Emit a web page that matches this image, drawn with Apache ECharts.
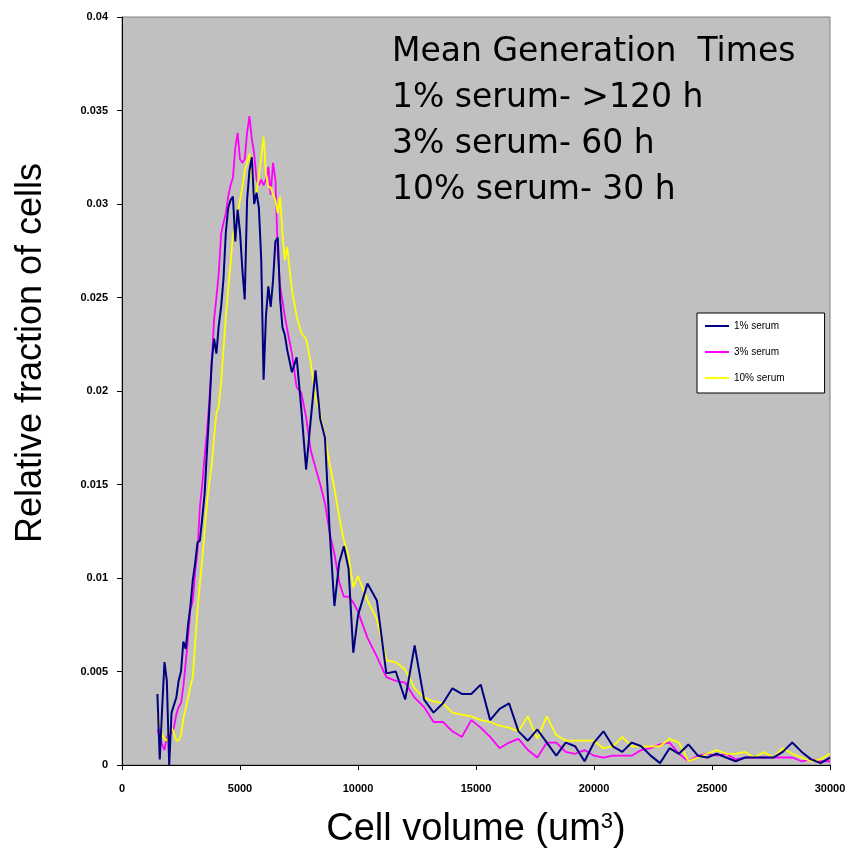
<!DOCTYPE html>
<html>
<head>
<meta charset="utf-8">
<script src="https://cdn.jsdelivr.net/npm/echarts@6/dist/echarts.min.js"></script>
<style>
html,body{margin:0;padding:0;background:#fff;}
#c{width:851px;height:855px;}
</style>
</head>
<body>
<div id="c"></div>
<script>
// Cell volume bins (um^3)
const volumes = [1500,1600,1700,1800,1900,2000,2100,2200,2300,2400,2500,2600,2700,2800,2900,3000,3100,3200,3300,3400,3500,3600,3700,3800,3900,4000,4100,4200,4300,4400,4500,4600,4700,4800,4900,5000,5100,5200,5300,5400,5500,5600,5700,5800,5900,6000,6100,6200,6300,6400,6500,6600,6700,6800,6900,7000,7200,7400,7600,7800,8000,8200,8400,8600,8800,9000,9200,9400,9600,9800,10000,10400,10800,11200,11600,12000,12400,12800,13200,13600,14000,14400,14800,15200,15600,16000,16400,16800,17200,17600,18000,18400,18800,19200,19600,20000,20400,20800,21200,21600,22000,22400,22800,23200,23600,24000,24400,24800,25200,25600,26000,26400,26800,27200,27600,28000,28400,28800,29200,29600,30000];

const serum1 = [0.0038,0.0003,0.003,0.0055,0.0045,0.0,0.0028,0.0032,0.0036,0.0045,0.005,0.0066,0.0062,0.0075,0.0085,0.0099,0.0108,0.0119,0.012,0.0132,0.0145,0.0168,0.019,0.0215,0.0228,0.022,0.0235,0.0245,0.026,0.0285,0.0298,0.0302,0.0304,0.028,0.0297,0.0285,0.0265,0.0249,0.0302,0.0318,0.0325,0.03,0.0306,0.0298,0.027,0.0206,0.024,0.0256,0.0245,0.0259,0.028,0.0282,0.0249,0.0234,0.023,0.0222,0.021,0.0218,0.019,0.0158,0.0185,0.0211,0.0185,0.0175,0.0125,0.0085,0.0108,0.0117,0.0105,0.006,0.008,0.0097,0.0088,0.0049,0.005,0.0035,0.0064,0.0035,0.0028,0.0033,0.0041,0.0038,0.0038,0.0043,0.0024,0.003,0.0033,0.0018,0.0013,0.0019,0.0012,0.0005,0.0012,0.001,0.0002,0.0012,0.0018,0.001,0.0007,0.0012,0.001,0.0005,0.0001,0.0009,0.0006,0.0011,0.0005,0.0004,0.0006,0.0004,0.0002,0.0004,0.0004,0.0004,0.0004,0.0007,0.0012,0.0007,0.0003,0.0001,0.0004];

const serum3 = [0.0019,0.0015,0.0011,0.0008,0.0015,0.0017,0.0017,0.002,0.0027,0.0031,0.0033,0.0042,0.0055,0.0068,0.0083,0.0088,0.0103,0.0115,0.0138,0.015,0.0165,0.0178,0.0195,0.0215,0.0238,0.025,0.0263,0.0284,0.029,0.0295,0.0304,0.031,0.0314,0.033,0.0338,0.0324,0.0322,0.0324,0.0338,0.0347,0.0335,0.0327,0.0313,0.031,0.0313,0.031,0.0313,0.032,0.0305,0.0322,0.0313,0.0274,0.0256,0.0248,0.024,0.0233,0.022,0.0202,0.0199,0.0186,0.0168,0.0159,0.015,0.014,0.0124,0.0113,0.0098,0.009,0.009,0.0087,0.0082,0.0068,0.0058,0.0047,0.0045,0.0044,0.0036,0.0031,0.0023,0.0023,0.0018,0.0015,0.0024,0.002,0.0015,0.0009,0.0012,0.0014,0.0008,0.0004,0.0012,0.0012,0.0007,0.0006,0.0008,0.0005,0.0004,0.0005,0.0005,0.0005,0.0008,0.0009,0.0011,0.0012,0.0006,0.0002,0.0005,0.0006,0.0005,0.0006,0.0003,0.0004,0.0004,0.0004,0.0004,0.0004,0.0004,0.0002,0.0003,0.0002,0.0002];

const serum10 = [0.0028,0.0022,0.0016,0.0014,0.0013,0.0017,0.002,0.0017,0.0013,0.0013,0.0016,0.0025,0.003,0.0036,0.0042,0.0047,0.0065,0.0083,0.0097,0.011,0.0125,0.014,0.0151,0.016,0.0175,0.0188,0.0192,0.0205,0.0222,0.024,0.0255,0.0268,0.0284,0.0288,0.0295,0.0302,0.0309,0.0318,0.0322,0.0327,0.0315,0.0306,0.0306,0.0315,0.0325,0.0336,0.0316,0.0309,0.0309,0.0305,0.0302,0.0295,0.0304,0.0284,0.027,0.0277,0.0254,0.024,0.0231,0.0228,0.0215,0.0196,0.0188,0.0175,0.0161,0.0148,0.0133,0.012,0.0112,0.0095,0.0101,0.0088,0.0078,0.0056,0.0055,0.0051,0.0041,0.0036,0.0034,0.0033,0.0028,0.0027,0.0026,0.0024,0.0023,0.0021,0.002,0.0018,0.0026,0.0014,0.0026,0.0016,0.0013,0.0013,0.0013,0.0013,0.0009,0.001,0.0015,0.001,0.001,0.001,0.001,0.0014,0.0012,0.0002,0.0004,0.0006,0.0008,0.0006,0.0006,0.0007,0.0004,0.0007,0.0004,0.0009,0.0006,0.0004,0.0002,0.0003,0.0006];

const seriesNames = ['1% serum','3% serum','10% serum'];
const annotationLines = ['Mean Generation  Times','1% serum- >120 h','3% serum- 60 h','10% serum- 30 h'];
const yTitle = 'Relative fraction of cells';

function pairs(ys){ return volumes.map((v,i)=>[v, ys[i]]); }

const chart = echarts.init(document.getElementById('c'), null, {renderer:'canvas'});
const tickFont = {fontFamily:'Liberation Sans, Arial, sans-serif', fontSize:11, fontWeight:'bold', color:'#000'};

const graphics = annotationLines.map((t,i)=>({
  type:'text', left:392, top:36 + i*46, z:100,
  style:{text:t, fontFamily:'DejaVu Sans, sans-serif', fontSize:33, fill:'#000'}
}));
graphics.push({
  type:'text', x:31, y:353, rotation:Math.PI/2, z:100,
  style:{text:yTitle, fontFamily:'Liberation Sans, Arial, sans-serif', fontSize:36, fill:'#000', textAlign:'center', textVerticalAlign:'middle'}
});

chart.setOption({
  animation:false,
  backgroundColor:'#ffffff',
  grid:{left:122, top:17, right:21, bottom:90, show:true, backgroundColor:'#c0c0c0', borderColor:'#808080', borderWidth:1},
  xAxis:{
    type:'value', min:0, max:30000, interval:5000,
    axisLine:{show:true, onZero:false, lineStyle:{color:'#000', width:1}},
    axisTick:{show:true, inside:false, length:5, lineStyle:{color:'#000'}},
    splitLine:{show:false},
    axisLabel:Object.assign({margin:18, formatter:v=>String(v)}, tickFont),
    name:'Cell volume (um{sup|3})', nameLocation:'middle', nameGap:46,
    nameTextStyle:{fontFamily:'Liberation Sans, Arial, sans-serif', fontSize:38, color:'#000',
      rich:{sup:{fontSize:22, verticalAlign:'top', padding:[0,0,16,0], fontFamily:'Liberation Sans, Arial, sans-serif', color:'#000'}}}
  },
  yAxis:{
    type:'value', min:0, max:0.04, interval:0.005,
    axisLine:{show:true, lineStyle:{color:'#000', width:1}},
    axisTick:{show:true, inside:false, length:5, lineStyle:{color:'#000'}},
    splitLine:{show:false},
    axisLabel:Object.assign({margin:14, formatter:v=>String(+v.toFixed(3))}, tickFont)
  },
  legend:{
    data:seriesNames, orient:'vertical', left:697, top:313,
    backgroundColor:'#ffffff', borderColor:'#000', borderWidth:1,
    padding:[8,40,10,8], itemGap:16, itemWidth:24, itemHeight:2, icon:'rect',
    textStyle:{fontFamily:'Liberation Sans, Arial, sans-serif', fontSize:10, color:'#000'}
  },
  graphic:graphics,
  series:[
    {name:seriesNames[0], type:'line', data:pairs(serum1), showSymbol:false, symbol:'none', z:4,
     lineStyle:{color:'#000080', width:2}, itemStyle:{color:'#000080'}},
    {name:seriesNames[1], type:'line', data:pairs(serum3), showSymbol:false, symbol:'none', z:2,
     lineStyle:{color:'#ff00ff', width:1.8}, itemStyle:{color:'#ff00ff'}},
    {name:seriesNames[2], type:'line', data:pairs(serum10), showSymbol:false, symbol:'none', z:3,
     lineStyle:{color:'#ffff00', width:1.8}, itemStyle:{color:'#ffff00'}}
  ]
});
</script>
</body>
</html>
